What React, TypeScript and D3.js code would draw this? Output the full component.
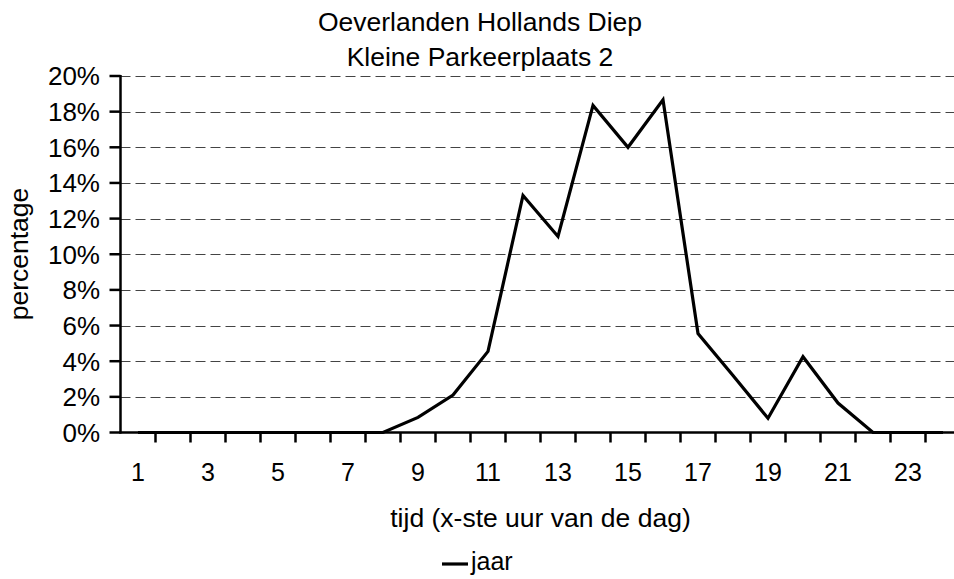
import React from "react";
import * as d3 from "d3";

const hours: number[] = [1, 2, 3, 4, 5, 6, 7, 8, 9, 10, 11, 12, 13, 14, 15, 16, 17, 18, 19, 20, 21, 22, 23, 24];
const jaar: number[] = [0, 0, 0, 0, 0, 0, 0, 0, 0.0085, 0.021, 0.0455, 0.133, 0.110, 0.1835, 0.160, 0.1867, 0.0555, 0.032, 0.008, 0.0425, 0.0165, 0, 0, 0];
const yTicks: number[] = [0, 0.02, 0.04, 0.06, 0.08, 0.1, 0.12, 0.14, 0.16, 0.18, 0.2];
const xLabelHours: number[] = [1, 3, 5, 7, 9, 11, 13, 15, 17, 19, 21, 23];
const titleLines: string[] = ["Oeverlanden Hollands Diep", "Kleine Parkeerplaats 2"];
const xTitle = "tijd (x-ste uur van de dag)";
const yTitle = "percentage";
const seriesName = "jaar";

const W = 954;
const H = 579;
const FONT = "'Liberation Sans', Arial, Helvetica, sans-serif";

export default function App() {
  const left = 120.5;
  const right = 960.5;
  const top = 76;
  const bottom = 432.5;

  const x = d3.scaleBand<number>().domain(hours).range([left, right]).padding(0);
  const y = d3.scaleLinear().domain([0, 0.2]).range([bottom, top]);
  const cx = (h: number) => (x(h) as number) + x.bandwidth() / 2;

  const line = d3
    .line<number>()
    .x((_, i) => cx(hours[i]))
    .y((d) => y(d));

  const fmt = d3.format(".0%");

  return (
    <svg
      width={W}
      height={H}
      style={{ position: "absolute", left: 0, top: 0, background: "#fff" }}
      fontFamily={FONT}
    >
      <rect x={0} y={0} width={W} height={H} fill="#fff" />
      {titleLines.map((t, i) => (
        <text key={t} x={480} y={31 + i * 35} textAnchor="middle" fontSize={26.5} fill="#000">
          {t}
        </text>
      ))}
      {yTicks.slice(1).map((v) => (
        <line
          key={"g" + v}
          x1={left}
          x2={right}
          y1={Math.round(y(v)) + 0.5}
          y2={Math.round(y(v)) + 0.5}
          stroke="#444"
          strokeWidth={1}
          strokeDasharray="10,5"
        />
      ))}
      <line x1={left} x2={left} y1={top - 1} y2={bottom + 1} stroke="#000" strokeWidth={2.5} />
      {yTicks.map((v) => (
        <g key={"yt" + v}>
          <line x1={left - 11} x2={left} y1={y(v)} y2={y(v)} stroke="#000" strokeWidth={2.5} />
          <text x={100} y={y(v)} dy="0.36em" textAnchor="end" fontSize={26} fill="#000">
            {fmt(v)}
          </text>
        </g>
      ))}
      <line x1={left - 1} x2={right} y1={bottom} y2={bottom} stroke="#000" strokeWidth={2.5} />
      {hours.map((h) => (
        <line
          key={"xt" + h}
          x1={(x(h) as number) + x.bandwidth()}
          x2={(x(h) as number) + x.bandwidth()}
          y1={bottom}
          y2={bottom + 10}
          stroke="#000"
          strokeWidth={2.5}
        />
      ))}
      {xLabelHours.map((h) => (
        <text key={"xl" + h} x={cx(h)} y={481} textAnchor="middle" fontSize={25} fill="#000">
          {h}
        </text>
      ))}
      <path d={line(jaar) || ""} fill="none" stroke="#000" strokeWidth={3.2} strokeLinejoin="miter" />
      <text x={(left + right) / 2} y={527} textAnchor="middle" fontSize={26.5} fill="#000">
        {xTitle}
      </text>
      <text
        transform={`translate(${28},${254}) rotate(-90)`}
        textAnchor="middle"
        fontSize={26.5}
        fill="#000"
      >
        {yTitle}
      </text>
      <line x1={442} x2={468} y1={564} y2={564} stroke="#000" strokeWidth={3.2} />
      <text x={471} y={570} fontSize={25} fill="#000">
        {seriesName}
      </text>
    </svg>
  );
}
